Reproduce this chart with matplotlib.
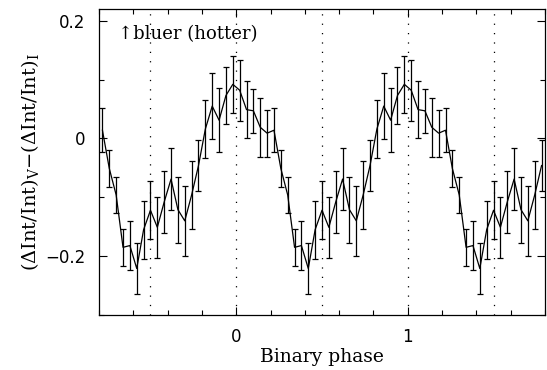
import numpy as np
import matplotlib
matplotlib.use("Agg")
import matplotlib.pyplot as plt
from matplotlib.ticker import MultipleLocator, FixedLocator, FixedFormatter

# Phase-bin centres (one cycle) and colour differences with errors
phase = [0.02, 0.06, 0.10, 0.14, 0.18, 0.22, 0.26, 0.30, 0.34, 0.38,
         0.42, 0.46, 0.50, 0.54, 0.58, 0.62, 0.66, 0.70, 0.74, 0.78,
         0.82, 0.86, 0.90, 0.94, 0.98]
color_diff = [0.082, 0.049, 0.047, 0.019, 0.009, 0.014, -0.051, -0.096, -0.185, -0.182,
              -0.221, -0.155, -0.122, -0.151, -0.108, -0.069, -0.121, -0.140, -0.096, -0.046,
              0.016, 0.055, 0.031, 0.073, 0.092]
color_err = [0.052, 0.049, 0.037, 0.050, 0.040, 0.037, 0.032, 0.030, 0.031, 0.041,
             0.044, 0.049, 0.049, 0.052, 0.053, 0.052, 0.056, 0.060, 0.058, 0.044,
             0.050, 0.056, 0.054, 0.048, 0.048]
cycles = [-1, 0, 1]
vlines_x = [-0.5, 0.0, 0.5, 1.0, 1.5]
xticks = [0, 1]
xticklabels = ["0", "1"]
yticks = [-0.2, 0.0, 0.2]
yticklabels = ["\u22120.2", "0", "0.2"]
xlim = (-0.8, 1.8)
ylim = (-0.3, 0.22)

ph = np.array(phase)
x = np.concatenate([ph + c for c in cycles])
y = np.tile(color_diff, len(cycles))
e = np.tile(color_err, len(cycles))
m = (x >= xlim[0]) & (x <= xlim[1])
x, y, e = x[m], y[m], e[m]

plt.rcParams['mathtext.fontset'] = 'dejavuserif'
fig = plt.figure(figsize=(5.47, 3.70), dpi=100)
ax = fig.add_axes([99/547, 1-315/370, (545-99)/547, (315-9)/370])

for vx in vlines_x:
    ax.axvline(vx, color='black', lw=0.9, ls=(0, (1, 6.5)), zorder=1)

ax.errorbar(x, y, yerr=e, color='black', lw=0.9, elinewidth=0.9,
            capsize=2.2, capthick=0.9, zorder=3)

ax.set_xlim(*xlim)
ax.set_ylim(*ylim)
ax.xaxis.set_major_locator(FixedLocator(xticks))
ax.xaxis.set_major_formatter(FixedFormatter(xticklabels))
ax.xaxis.set_minor_locator(MultipleLocator(0.2))
ax.yaxis.set_major_locator(FixedLocator(yticks))
ax.yaxis.set_major_formatter(FixedFormatter(yticklabels))
ax.yaxis.set_minor_locator(MultipleLocator(0.1))
ax.tick_params(which='both', direction='in', top=True, right=True, width=0.8)
ax.tick_params(which='major', length=6, labelsize=12)
ax.tick_params(axis='x', which='major', pad=9)
ax.tick_params(axis='y', which='major', pad=10)
ax.tick_params(which='minor', length=3.5)
for lab in ax.get_xticklabels() + ax.get_yticklabels():
    lab.set_family('DejaVu Sans')
for s in ax.spines.values():
    s.set_linewidth(0.9)

ax.set_xlabel("Binary phase", family='DejaVu Serif', fontsize=13.5, labelpad=2)
ax.set_ylabel(r"(ΔInt/Int)$_{\rm V}$−(ΔInt/Int)$_{\rm I}$", family='DejaVu Serif',
              fontsize=14, labelpad=3)
ax.text(-0.69, 0.178, "↑bluer (hotter)", family='DejaVu Serif', fontsize=13,
        va='center', ha='left')

fig.savefig("out.png", dpi=100)
